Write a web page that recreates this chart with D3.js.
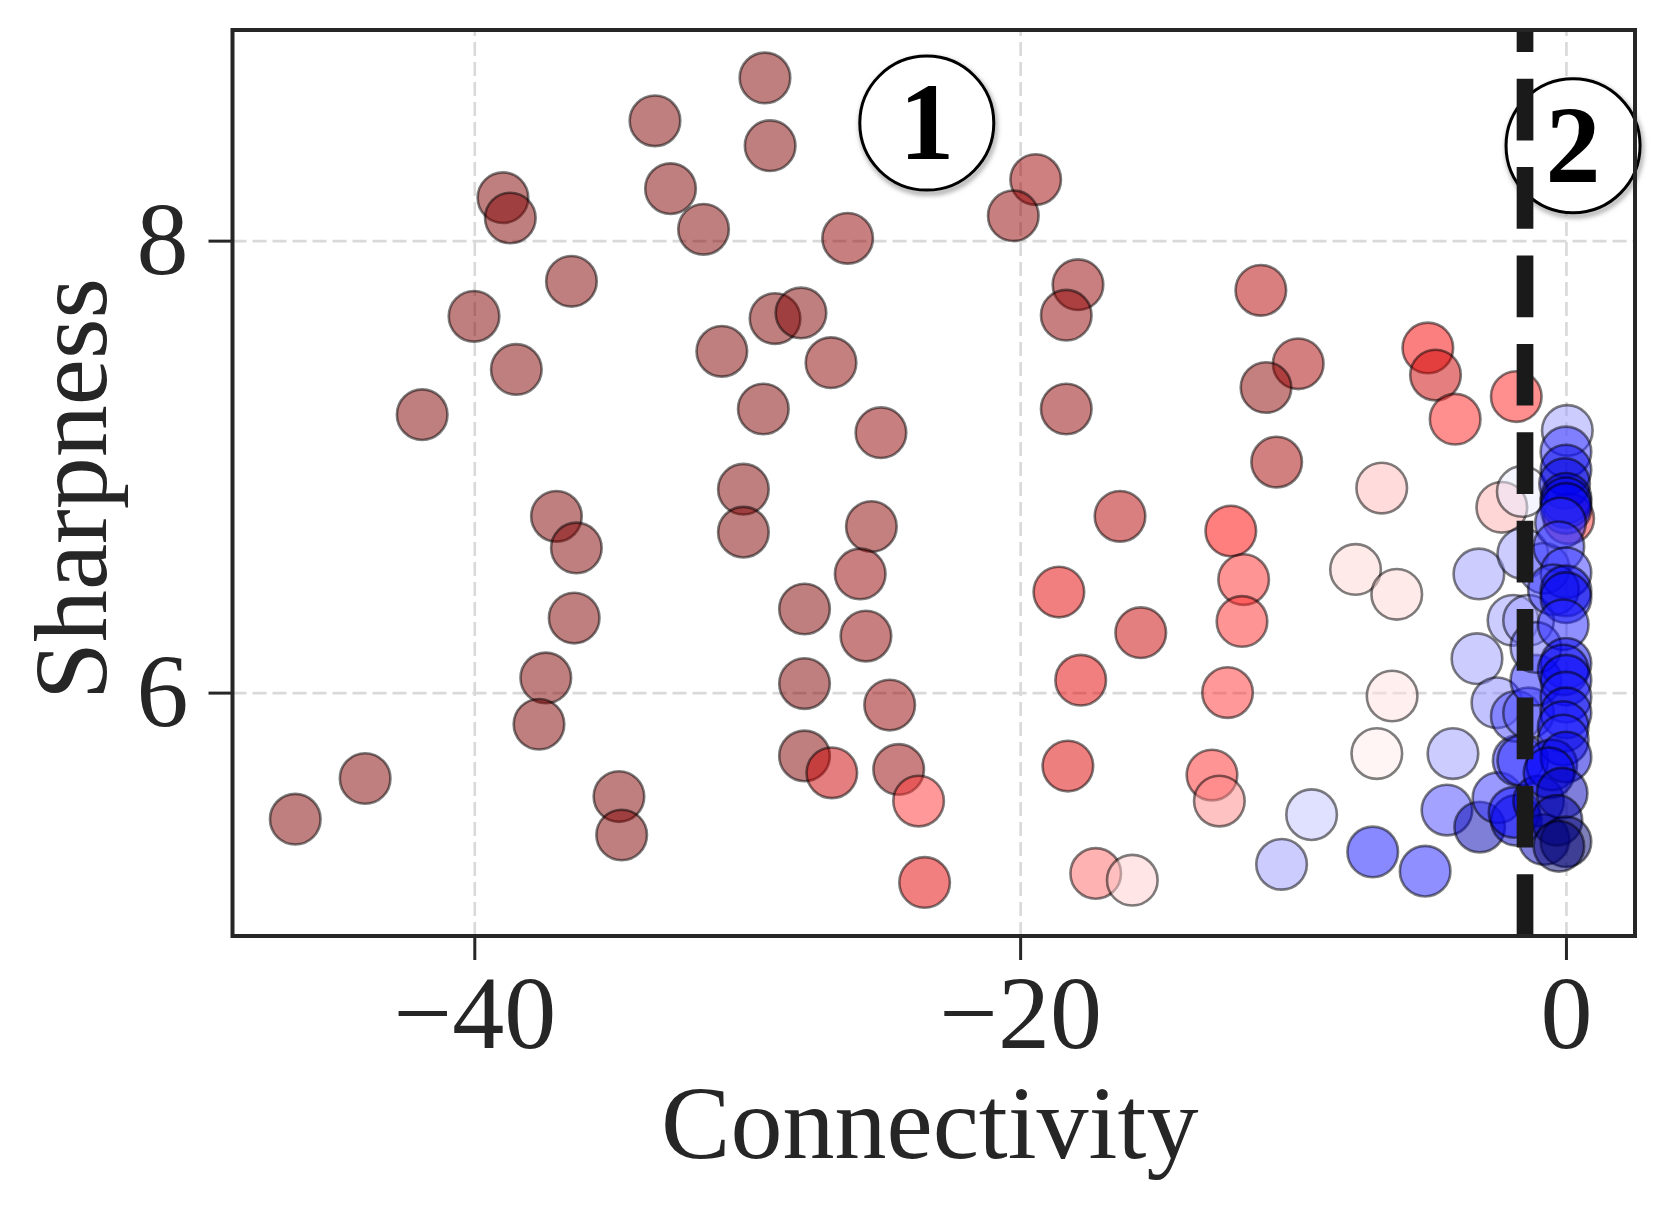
<!DOCTYPE html>
<html>
<head>
<meta charset="utf-8">
<script src="https://cdn.jsdelivr.net/npm/d3@7"></script>
<style>
  body { margin: 0; background: #fff; }
  text { font-family: "Liberation Serif", "Times New Roman", serif; }
</style>
</head>
<body>
<svg id="chart" width="1657" height="1210"></svg>
<script>
// one entry per run: connectivity (x), sharpness (y), colour value (0 dark red .. 0.5 white .. 1 navy)
var connectivity = [
    -46.56, -44.0, -41.91, -40.01, -38.95, -38.68, -38.46, -36.44, -36.99, -36.26,
    -36.34, -37.38, -37.63, -34.70, -34.60, -33.38, -32.81, -31.6, -29.35, -29.16,
    -26.32, -30.93, -28.98, -28.03, -26.93, -29.41, -25.1, -30.14, -30.14, -25.45,
    -25.86, -27.9, -25.65, -27.9, -24.78, -27.9, -26.9, -24.45, -23.72, -23.5,
    -19.43, -20.25, -17.88, -18.31, -18.31, -16.34, -18.58, -15.58, -17.78, -18.25,
    -17.23, -15.89, -11.18, -9.81, -10.99, -10.6, -5.06, -4.78, -4.06, -1.82,
    -12.28, -11.81, -11.87, -12.4, -12.97, -12.7, -6.75, -7.71, -6.2, -6.37,
    -6.93, -9.32, -10.42, -7.08, -5.16, -3.19, -3.26, -2.53, -4.14, -4.36,
    -3.16, -2.49, -1.82, -2.35, -1.6, -1.94, -1.75, -1.82,
    0.1, -1.58, -1.37, -1.37, -1.58, -1.9, -1.1, -1.1, -0.8, -1.0,
    -0.8, 0.05, 0.0, 0.0, -0.05, 0.0, 0.0, 0.0, -0.2, -0.26,
    0.0, -0.46, 0.0, 0.0, -0.1, 0.0, -0.1, 0.0, 0.0, 0.0,
    -0.1, -0.1, -0.52, 0.0, -0.62, -0.14, -0.33, 0.0, -0.26
];
var sharpness = [
    5.44, 5.62, 7.23, 7.665, 8.19, 8.10, 7.43, 7.82, 6.78, 6.64,
    6.33, 6.065, 5.86, 5.54, 5.37, 8.53, 8.23, 8.05, 8.72, 8.42,
    8.01, 7.51, 7.655, 7.68, 7.46, 7.255, 7.15, 6.90, 6.71, 6.735,
    6.525, 6.37, 6.25, 6.04, 5.945, 5.72, 5.645, 5.66, 5.52, 5.16,
    8.27, 8.11, 7.805, 7.67, 7.255, 6.78, 6.445, 6.265, 6.055, 5.675,
    5.20, 5.17, 7.78, 7.455, 7.35, 7.02, 7.525, 7.405, 7.21, 7.31,
    6.715, 6.50, 6.315, 6.00, 5.635, 5.52, 6.905, 6.545, 6.435, 5.985,
    5.73, 5.46, 5.24, 5.295, 5.21, 6.525, 6.15, 5.955, 5.73, 5.48,
    5.405, 5.535, 5.435, 6.82, 6.89, 6.32, 5.70, 5.895,
    6.77, 6.615, 6.32, 5.91, 5.70, 5.47, 6.055, 6.2, 6.55, 5.52,
    5.35, 7.16, 7.065, 6.985, 6.925, 6.86, 6.84, 6.815, 6.75, 6.645,
    6.53, 6.455, 6.45, 6.42, 6.30, 6.13, 6.10, 6.055, 5.98, 5.91,
    5.85, 5.79, 5.68, 5.715, 5.645, 5.555, 5.435, 5.34, 5.32
];
var tone = [
    0, 0, 0, 0, 0, 0, 0, 0, 0, 0,
    0, 0, 0, 0, 0, 0, 0, 0, 0, 0,
    0.03, 0, 0, 0, 0.02, 0, 0.03, 0, 0, 0.02,
    0.04, 0, 0.03, 0, 0.04, 0, 0.15, 0.04, 0.3, 0.2,
    0.06, 0.03, 0.04, 0.03, 0.03, 0.1, 0.2, 0.14, 0.2, 0.18,
    0.35, 0.45, 0.1, 0.08, 0.02, 0.07, 0.24, 0.15, 0.28, 0.28,
    0.25, 0.29, 0.29, 0.3, 0.29, 0.38, 0.43, 0.46, 0.46, 0.47,
    0.48, 0.56, 0.6, 0.73, 0.72, 0.6, 0.6, 0.62, 0.6, 0.68,
    0.86, 0.7, 0.82, 0.42, 0.52, 0.6, 0.72, 0.68,
    0.3, 0.6, 0.6, 0.66, 0.7, 0.74, 0.72, 0.65, 0.66, 0.8,
    0.85, 0.6, 0.7, 0.78, 0.8, 0.8, 0.78, 0.76, 0.7, 0.7,
    0.7, 0.7, 0.76, 0.78, 0.72, 0.78, 0.74, 0.76, 0.72, 0.78,
    0.74, 0.72, 0.74, 0.8, 0.76, 0.85, 0.88, 0.95, 0.95
];

var xTicks = [-40, -20, 0];
var yTicks = [6, 8];
var threshold = -1.5;
var callouts = [
    {label: "1", x: -23.42, y: 8.52},
    {label: "2", x: 0.26, y: 8.42}
];

var svg = d3.select("#chart");
// plot box in pixels (avoid the global name "top")
var box = {left: 232.5, right: 1635, top: 30, bottom: 936};
var ink = "#262626";
var fontSize = 104;

var x = d3.scaleLinear().domain([-48.86, 2.53]).range([box.left, box.right]);
var y = d3.scaleLinear().domain([4.923, 8.932]).range([box.bottom, box.top]);

// seismic_r style diverging map
var colour = d3.scaleLinear()
    .domain([0, 0.25, 0.5, 0.75, 1])
    .range(["#800000", "#ff0000", "#ffffff", "#0000ff", "#00004d"]);

var points = connectivity.map(function(c, i) {
    return {x: c, y: sharpness[i], t: tone[i]};
});

// grid
var gridX = svg.append("g")
    .attr("transform", "translate(0," + box.bottom + ")")
    .call(d3.axisBottom(x).tickValues(xTicks).tickSize(-(box.bottom - box.top)).tickFormat(""));
var gridY = svg.append("g")
    .attr("transform", "translate(" + box.left + ",0)")
    .call(d3.axisLeft(y).tickValues(yTicks).tickSize(-(box.right - box.left)).tickFormat(""));
[gridX, gridY].forEach(function(g) {
    g.select(".domain").remove();
    g.selectAll("line")
        .attr("stroke", "#d9d9d9")
        .attr("stroke-width", 2.6)
        .attr("stroke-dasharray", "14,6");
});

// scatter
svg.append("g").selectAll("circle")
    .data(points).enter()
    .append("circle")
    .attr("cx", d => x(d.x))
    .attr("cy", d => y(d.y))
    .attr("r", 25.3)
    .attr("fill", d => colour(d.t))
    .attr("fill-opacity", 0.5)
    .attr("stroke", "#000")
    .attr("stroke-opacity", 0.5)
    .attr("stroke-width", 2.6);

// numbered callouts
var defs = svg.append("defs");
var blur = defs.append("filter").attr("id", "shade")
    .attr("x", "-20%").attr("y", "-20%").attr("width", "140%").attr("height", "140%");
blur.append("feGaussianBlur").attr("stdDeviation", 2.5);

var call = svg.append("g").selectAll("g")
    .data(callouts).enter()
    .append("g")
    .attr("transform", d => "translate(" + x(d.x) + "," + y(d.y) + ")");
call.append("circle")
    .attr("cx", 1.5).attr("cy", 3)
    .attr("r", 67)
    .attr("fill", "none")
    .attr("stroke", "#999")
    .attr("stroke-width", 4)
    .attr("filter", "url(#shade)");
call.append("circle")
    .attr("r", 67)
    .attr("fill", "#fff")
    .attr("stroke", "#000")
    .attr("stroke-width", 3);
call.append("text")
    .attr("text-anchor", "middle")
    .attr("y", 36)
    .attr("font-size", 110)
    .attr("font-weight", "bold")
    .attr("fill", "#000")
    .text(d => d.label);

// threshold line, dashes start at the bottom like matplotlib
svg.append("line")
    .attr("x1", x(threshold)).attr("x2", x(threshold))
    .attr("y1", box.bottom).attr("y2", box.top)
    .attr("stroke", "#1a1a1a")
    .attr("stroke-width", 16.7)
    .attr("stroke-dasharray", "61.7,26.7");

// axes
var xAxis = svg.append("g")
    .attr("transform", "translate(0," + box.bottom + ")")
    .call(d3.axisBottom(x).tickValues(xTicks).tickSize(24).tickPadding(14).tickFormat(d3.format("d")));
var yAxis = svg.append("g")
    .attr("transform", "translate(" + box.left + ",0)")
    .call(d3.axisLeft(y).tickValues(yTicks).tickSize(24).tickPadding(20).tickFormat(d3.format("d")));
[xAxis, yAxis].forEach(function(g) {
    g.select(".domain").remove();
    g.selectAll("line").attr("stroke", ink).attr("stroke-width", 3);
    g.selectAll("text")
        .attr("fill", ink)
        .style("font-family", '"Liberation Serif", serif')
        .style("font-size", fontSize + "px");
});

// frame
svg.append("rect")
    .attr("x", box.left).attr("y", box.top)
    .attr("width", box.right - box.left).attr("height", box.bottom - box.top)
    .attr("fill", "none")
    .attr("stroke", ink)
    .attr("stroke-width", 4);

// axis titles
svg.append("text")
    .attr("x", (box.left + box.right) / 2 - 4)
    .attr("y", 1158)
    .attr("text-anchor", "middle")
    .attr("font-size", fontSize)
    .attr("fill", ink)
    .text("Connectivity");

svg.append("text")
    .attr("transform", "translate(106,489) rotate(-90)")
    .attr("text-anchor", "middle")
    .attr("font-size", fontSize)
    .attr("fill", ink)
    .text("Sharpness");
</script>
</body>
</html>
